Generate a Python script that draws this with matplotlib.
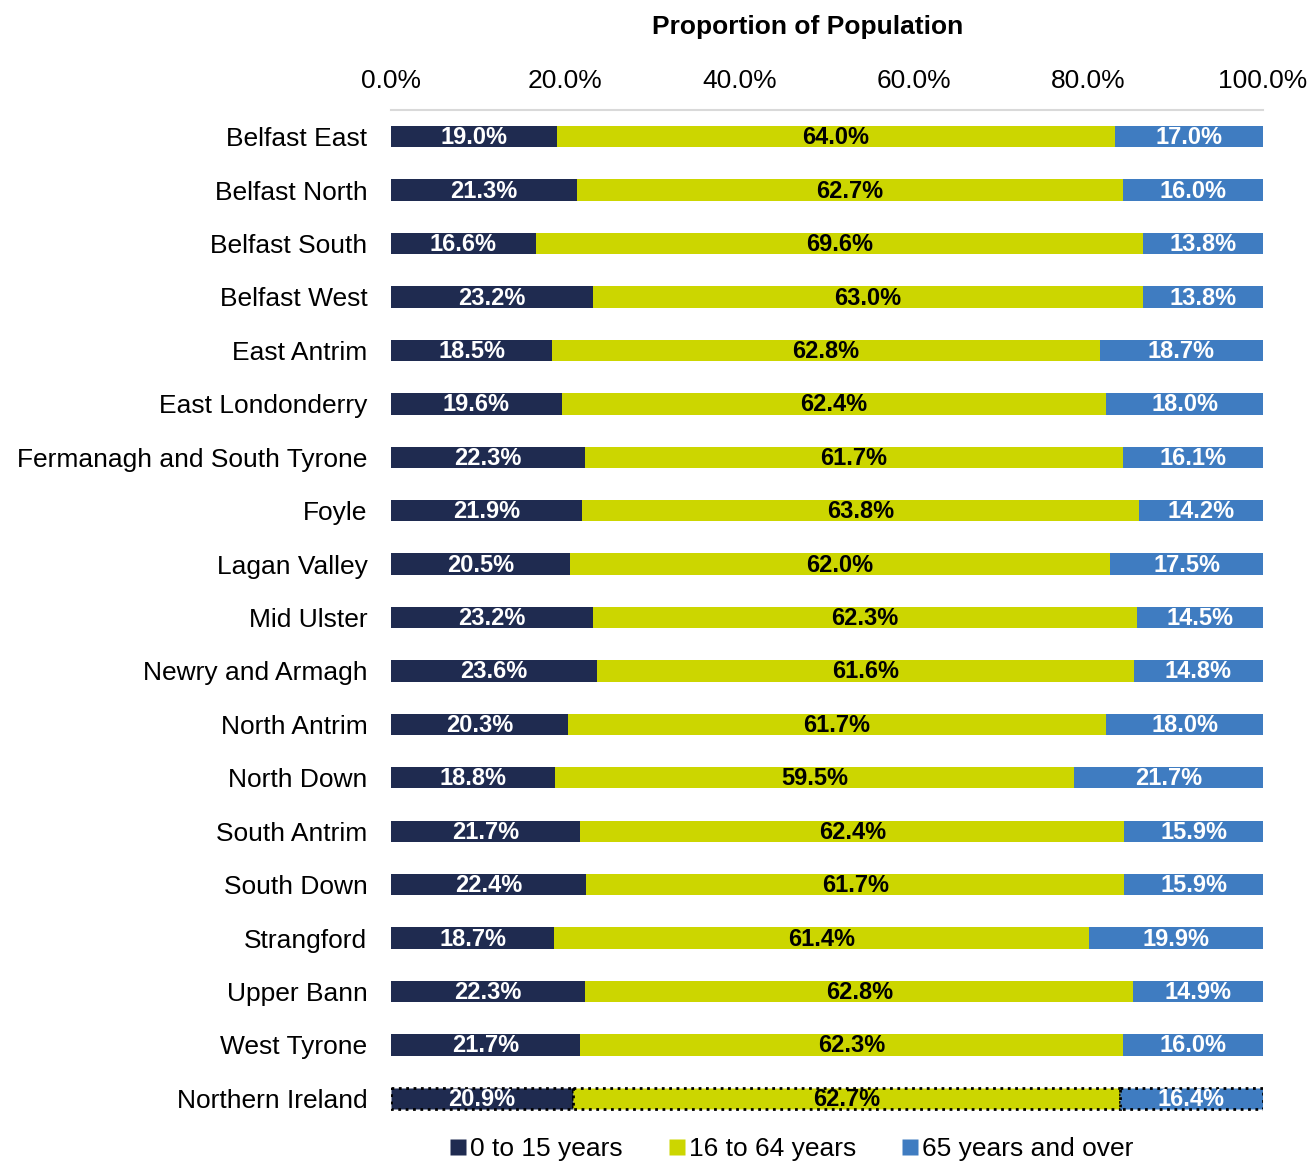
import matplotlib
matplotlib.use('Agg')
import matplotlib.pyplot as plt
from matplotlib.lines import Line2D

plt.rcParams['font.family'] = ['Liberation Sans', 'DejaVu Sans']

# ─────────────────────────────────────────
# Data
# ─────────────────────────────────────────
areas = ['Belfast East', 'Belfast North', 'Belfast South', 'Belfast West',
         'East Antrim', 'East Londonderry', 'Fermanagh and South Tyrone',
         'Foyle', 'Lagan Valley', 'Mid Ulster', 'Newry and Armagh',
         'North Antrim', 'North Down', 'South Antrim', 'South Down',
         'Strangford', 'Upper Bann', 'West Tyrone', 'Northern Ireland']
age_0_15  = [19.0, 21.3, 16.6, 23.2, 18.5, 19.6, 22.3, 21.9, 20.5, 23.2,
             23.6, 20.3, 18.8, 21.7, 22.4, 18.7, 22.3, 21.7, 20.9]
age_16_64 = [64.0, 62.7, 69.6, 63.0, 62.8, 62.4, 61.7, 63.8, 62.0, 62.3,
             61.6, 61.7, 59.5, 62.4, 61.7, 61.4, 62.8, 62.3, 62.7]
age_65    = [17.0, 16.0, 13.8, 13.8, 18.7, 18.0, 16.1, 14.2, 17.5, 14.5,
             14.8, 18.0, 21.7, 15.9, 15.9, 19.9, 14.9, 16.0, 16.4]
series_names = ['0 to 15 years', '16 to 64 years', '65 years and over']

COLORS = ['#1F2B50', '#CCD600', '#3F7CC1']
TEXT_COLORS = ['white', 'black', 'white']
FS = 19

fig = plt.figure(figsize=(13.1, 11.62), dpi=100)
ax = fig.add_axes([391 / 1310, 1 - 1125 / 1162, 872 / 1310, 1015 / 1162])

y = list(range(len(areas)))
left = [0.0] * len(areas)
for vals, col, tcol in zip([age_0_15, age_16_64, age_65], COLORS, TEXT_COLORS):
    for i, v in enumerate(vals):
        total = age_0_15[i] + age_16_64[i] + age_65[i]
        w = v / total * 100
        is_ni = areas[i] == 'Northern Ireland'
        ax.barh(i, w, left=left[i], height=0.4, color=col,
                edgecolor='black' if is_ni else 'none',
                linestyle=':' if is_ni else '-',
                linewidth=2 if is_ni else 0)
        ax.text(left[i] + w / 2, i + 0.02, f'{v:.1f}%', ha='center', va='center',
                color=tcol, fontsize=17, fontweight='bold')
        left[i] += w

ax.set_xlim(0, 100)
ax.set_ylim(len(areas) - 0.5, -0.5)
ax.set_yticks(y)
ax.set_yticklabels(areas, fontsize=FS)
ax.set_xticks([0, 20, 40, 60, 80, 100])
ax.set_xticklabels([f'{t:.1f}%' for t in [0, 20, 40, 60, 80, 100]], fontsize=FS)
ax.xaxis.tick_top()
ax.tick_params(axis='both', length=0)
ax.tick_params(axis='x', pad=12)
ax.tick_params(axis='y', pad=17)
for s in ['left', 'right', 'bottom']:
    ax.spines[s].set_visible(False)
ax.spines['top'].set_color('#D9D9D9')
ax.spines['top'].set_linewidth(1.5)

fig.text(808 / 1310, 1 - 27 / 1162, 'Proportion of Population', ha='center',
         va='center', fontsize=FS, fontweight='bold')

handles = [Line2D([0], [0], marker='s', color='none', markerfacecolor=c,
                  markeredgecolor='none', markersize=11, label=n)
           for c, n in zip(COLORS, series_names)]
fig.legend(handles=handles, loc='center', bbox_to_anchor=(790 / 1310, 1 - 1149 / 1162),
           ncol=3, frameon=False, fontsize=FS, handletextpad=0.0,
           columnspacing=1.6, handlelength=0.9)

plt.savefig('out.png', dpi=100)
